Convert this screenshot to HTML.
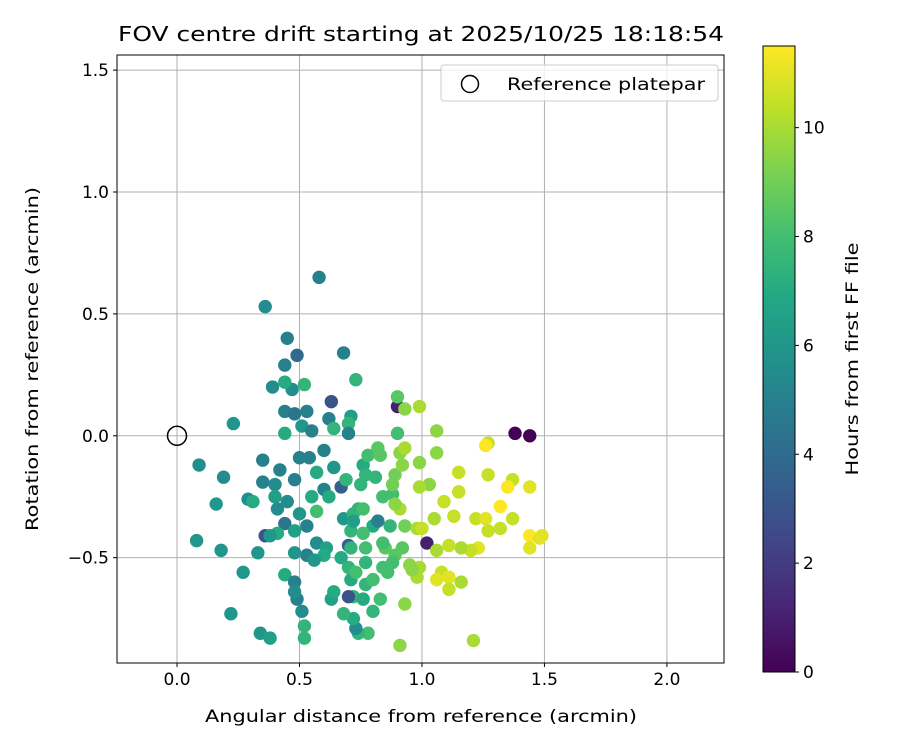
<!DOCTYPE html>
<html><head><meta charset="utf-8"><style>
body{margin:0;background:#fff;}
svg{display:block;font-family:"DejaVu Sans","Liberation Sans",sans-serif;}
</style></head><body>
<svg id="chart" width="900" height="750" xmlns="http://www.w3.org/2000/svg">
<rect width="900" height="750" fill="#fff"/>
<text x="421" y="41" font-size="20" text-anchor="middle" textLength="606" lengthAdjust="spacingAndGlyphs">FOV centre drift starting at 2025/10/25 18:18:54</text>
<g id="grid"></g>
<g id="points"></g>
<rect x="117" y="55" width="607" height="608" fill="none" stroke="#000" stroke-width="1"/>
<g id="ticks"></g>
<text x="421" y="722" font-size="17" text-anchor="middle" textLength="432" lengthAdjust="spacingAndGlyphs">Angular distance from reference (arcmin)</text>
<text transform="translate(38,359) rotate(-90)" font-size="17" text-anchor="middle" textLength="344" lengthAdjust="spacingAndGlyphs">Rotation from reference (arcmin)</text>
<g>
<rect x="441" y="65" width="277" height="36" rx="3" fill="#fff" fill-opacity="0.8" stroke="#ccc"/>
<circle cx="470" cy="84" r="8.5" fill="none" stroke="#000" stroke-width="1.5"/>
<text x="507" y="90" font-size="17" textLength="198" lengthAdjust="spacingAndGlyphs">Reference platepar</text>
</g>
<defs><linearGradient id="vir" x1="0" y1="1" x2="0" y2="0">
<stop offset="0" stop-color="#440154"/><stop offset="0.1" stop-color="#482475"/><stop offset="0.2" stop-color="#414487"/><stop offset="0.3" stop-color="#355f8d"/><stop offset="0.4" stop-color="#2a788e"/><stop offset="0.5" stop-color="#21918c"/><stop offset="0.6" stop-color="#22a884"/><stop offset="0.7" stop-color="#44bf70"/><stop offset="0.8" stop-color="#7ad151"/><stop offset="0.9" stop-color="#bddf26"/><stop offset="1" stop-color="#fde725"/>
</linearGradient></defs>
<rect x="763" y="46" width="32" height="626" fill="url(#vir)" stroke="#000"/>
<g id="cbticks"></g>
<text transform="translate(858,359) rotate(-90)" font-size="17" text-anchor="middle" textLength="233" lengthAdjust="spacingAndGlyphs">Hours from first FF file</text>
</svg>
<script>
const xTicks=[0.0,0.5,1.0,1.5,2.0];
const yTicks=[-0.5,0.0,0.5,1.0,1.5];
const cbTicks=[0,2,4,6,8,10];
const xs=[0.36,0.58,0.45,0.49,0.44,0.68,0.39,0.47,0.44,0.52,0.73,0.63,0.23,0.44,0.48,0.53,0.51,0.44,0.55,0.62,0.71,0.70,0.70,0.64,0.09,0.35,0.19,0.50,0.54,0.60,0.57,0.64,0.67,0.69,0.76,0.78,0.83,0.77,0.81,0.75,0.42,0.48,0.35,0.40,0.29,0.31,0.16,0.45,0.40,0.41,0.55,0.57,0.60,0.62,0.53,0.50,0.44,0.48,0.41,0.36,0.38,0.33,0.18,0.08,0.27,0.44,0.48,0.49,0.48,0.22,0.34,0.38,0.51,0.52,0.52,0.53,0.48,0.57,0.61,0.70,0.67,0.68,0.71,0.74,0.72,0.76,0.72,0.80,0.76,0.84,0.88,0.88,0.89,0.92,0.91,0.93,0.90,0.90,0.90,0.93,0.99,1.06,1.06,0.99,1.03,0.99,0.91,0.89,0.93,0.98,1.00,1.02,1.05,1.09,1.15,1.15,1.13,1.22,1.26,1.27,1.32,1.27,1.27,1.26,1.38,1.44,1.37,1.35,1.37,1.32,1.44,1.44,1.48,1.44,1.49,1.23,1.20,1.16,1.11,1.06,1.08,1.06,1.11,1.11,1.16,0.98,0.99,0.95,0.96,0.92,0.85,0.89,0.88,0.84,0.84,0.93,0.91,1.21,0.83,0.80,0.78,0.74,0.73,0.72,0.68,0.72,0.70,0.76,0.63,0.64,0.71,0.70,0.73,0.77,0.77,0.77,0.80,0.86,0.87,0.71,0.82,0.60,0.56,0.82];
const ys=[0.53,0.65,0.40,0.33,0.29,0.34,0.20,0.19,0.22,0.21,0.23,0.14,0.05,0.10,0.09,0.10,0.04,0.01,0.02,0.07,0.08,0.05,0.01,0.03,-0.12,-0.10,-0.17,-0.09,-0.09,-0.06,-0.15,-0.13,-0.21,-0.18,-0.12,-0.08,-0.08,-0.16,-0.17,-0.20,-0.14,-0.18,-0.19,-0.20,-0.26,-0.27,-0.28,-0.27,-0.25,-0.30,-0.25,-0.31,-0.22,-0.25,-0.37,-0.32,-0.36,-0.39,-0.40,-0.41,-0.41,-0.48,-0.47,-0.43,-0.56,-0.57,-0.60,-0.67,-0.64,-0.73,-0.81,-0.83,-0.72,-0.78,-0.83,-0.49,-0.48,-0.44,-0.46,-0.45,-0.50,-0.34,-0.39,-0.30,-0.32,-0.30,-0.35,-0.37,-0.40,-0.25,-0.24,-0.20,-0.16,-0.12,-0.07,-0.05,0.01,0.12,0.16,0.11,0.12,0.02,-0.07,-0.11,-0.20,-0.21,-0.30,-0.28,-0.37,-0.38,-0.38,-0.44,-0.34,-0.27,-0.15,-0.23,-0.33,-0.34,-0.34,-0.39,-0.38,-0.16,-0.03,-0.04,0.01,0.00,-0.18,-0.21,-0.34,-0.29,-0.21,-0.41,-0.42,-0.46,-0.41,-0.46,-0.47,-0.46,-0.45,-0.47,-0.56,-0.59,-0.58,-0.63,-0.60,-0.58,-0.54,-0.53,-0.55,-0.46,-0.46,-0.49,-0.52,-0.54,-0.44,-0.69,-0.86,-0.84,-0.67,-0.72,-0.81,-0.81,-0.79,-0.75,-0.73,-0.66,-0.66,-0.67,-0.67,-0.64,-0.59,-0.54,-0.56,-0.46,-0.52,-0.61,-0.59,-0.56,-0.37,-0.46,-0.35,-0.49,-0.51,-0.05];
const hours=[5.5,5,5,4,5,5,5.5,5.5,7,7.5,7.5,3,6,5,4.5,5,6,7,5,5,6.5,7.5,5,7.5,5.5,5,5.5,5,5,5,7,6,3.5,7.5,7,8,8.5,7.5,7.5,7.5,5,5,5,5.5,5.5,7,6,5.5,6.5,5.5,7,8,5,7,5,6,4.5,6.5,7,3,6,6,6,6,6,7,5,5,5.5,6,6,6.5,5.5,7.5,7.5,5,6,5.5,6.5,3.5,7,6,7.5,7.5,7.5,8,6.5,7,8,8,8,9,9,9.5,9.5,10,8,1,8.5,9.5,10,9.5,9.5,9.5,9.5,10,10,9.5,9,10,10.5,1,10,10.5,10.5,10.5,10.5,10.5,11,10.5,10.5,10.5,10.5,11.5,0,0,10.5,11.5,10.5,11.5,11,11.5,11,11,11,11,10.5,10,10.5,10,10.5,11,11,10.5,10,10,10,9.5,9.5,8.5,8.5,8.5,8,8,8,9.5,9.5,10,8,7.5,8,7.5,5.5,7,7.5,7.5,3,7,6.5,7,7,7.5,8,8,7.5,7.5,8,8,7.5,7.5,5,7,6,8.5];
const NS="http://www.w3.org/2000/svg";
const L=117,R=724,T=55,B=663,X0=-0.245,X1=2.233,Y0=-0.932,Y1=1.562,HMAX=11.5;
const sx=v=>L+(v-X0)/(X1-X0)*(R-L);
const sy=v=>B-(v-Y0)/(Y1-Y0)*(B-T);
const vir=["#440154","#482475","#414487","#355f8d","#2a788e","#21918c","#22a884","#44bf70","#7ad151","#bddf26","#fde725"];
function hx(c){return [1,3,5].map(i=>parseInt(c.substr(i,2),16));}
function cmap(h){let t=Math.max(0,Math.min(1,h/HMAX))*10;let i=Math.min(9,Math.floor(t)),f=t-i;const a=hx(vir[i]),b=hx(vir[i+1]);return "rgb("+a.map((v,k)=>Math.round(v+(b[k]-v)*f)).join(",")+")";}
function mk(tag,attrs,parent){const e=document.createElementNS(NS,tag);for(const k in attrs)e.setAttribute(k,attrs[k]);parent.appendChild(e);return e;}
const grid=document.getElementById('grid'),ticks=document.getElementById('ticks'),pts=document.getElementById('points'),cbt=document.getElementById('cbticks');
const fmt=v=>(v<0?"\u2212":"")+Math.abs(v).toFixed(1);
xTicks.forEach(v=>{const x=sx(v);
 const g=mk('line',{x1:x,x2:x,y1:T,y2:B,stroke:"#b0b0b0","stroke-width":1},grid);
 
 
 mk('line',{x1:x,x2:x,y1:B,y2:B+4,stroke:"#000"},ticks);
 const t=mk('text',{x:x,y:B+22,"font-size":17,"text-anchor":"middle"},ticks);t.textContent=fmt(v);
 
 });
yTicks.forEach(v=>{const y=sy(v);
 const g=mk('line',{x1:L,x2:R,y1:y,y2:y,stroke:"#b0b0b0","stroke-width":1},grid);
 
 
 mk('line',{x1:L-4,x2:L,y1:y,y2:y,stroke:"#000"},ticks);
 const t=mk('text',{x:L-8,y:y+6,"font-size":17,"text-anchor":"end"},ticks);t.textContent=fmt(v);
 
 });
xs.forEach((x,i)=>{const c=mk('circle',{cx:sx(x),cy:sy(ys[i]),r:6.7,fill:cmap(hours[i])},pts);
 
 });
const ref=mk('circle',{cx:sx(0),cy:sy(0),r:9.5,fill:"none",stroke:"#000","stroke-width":1.5},pts);


cbTicks.forEach(v=>{const y=672-v/HMAX*626;
 mk('line',{x1:795,x2:799,y1:y,y2:y,stroke:"#000"},cbt);
 const t=mk('text',{x:803,y:y+6,"font-size":17},cbt);t.textContent=v;
 
 });
</script>
</body></html>
